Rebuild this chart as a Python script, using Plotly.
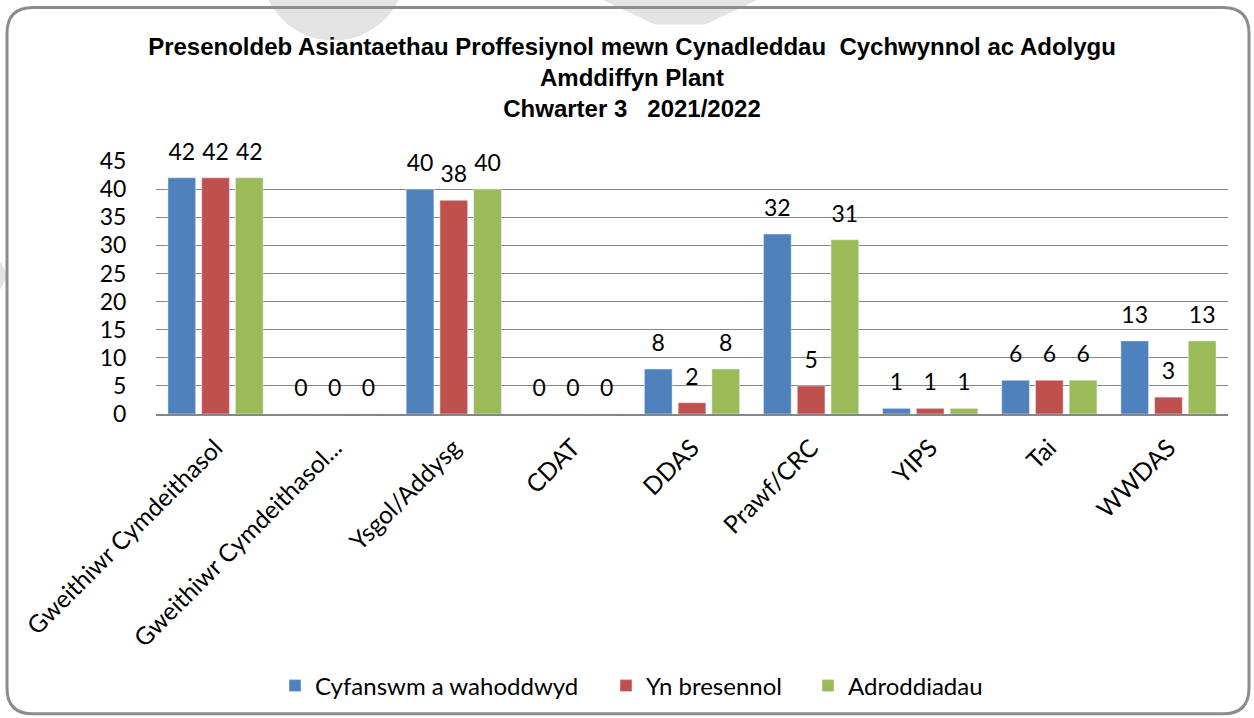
import plotly.graph_objects as go

categories = ["Gweithiwr Cymdeithasol", "Gweithiwr Cymdeithasol...", "Ysgol/Addysg", "CDAT",
              "DDAS", "Prawf/CRC", "YIPS", "Tai", "WWDAS"]
invited = [42, 0, 40, 0, 8, 32, 1, 6, 13]
present = [42, 0, 38, 0, 2, 5, 1, 6, 3]
reports = [42, 0, 40, 0, 8, 31, 1, 6, 13]

series_names = ["Cyfanswm a wahoddwyd", "Yn bresennol", "Adroddiadau"]
series_values = [invited, present, reports]
colors = ["#4F81BD", "#C0504D", "#9BBB59"]

W, H = 1254, 718
L, R, T, B = 156, 26, 161, 303
PW, PH = W - L - R, H - T - B


def px(x):
    return (x - L) / PW


def py(y):
    return (H - B - y) / PH


legend_ids = ["legend", "legend2", "legend3"]
legend_left = [275, 606, 808]

fig = go.Figure()
for i, (name, vals, col) in enumerate(zip(series_names, series_values, colors)):
    fig.add_trace(go.Bar(x=categories, y=vals, name=name, marker_color=col,
                         offsetgroup=str(i), hoverinfo="skip", legend=legend_ids[i]))
for i, (name, vals) in enumerate(zip(series_names, series_values)):
    fig.add_trace(go.Scatter(x=categories, y=vals, mode="markers+text", text=[str(v) for v in vals],
                             textposition="top center", offsetgroup=str(i),
                             marker=dict(size=18, opacity=0), showlegend=False,
                             textfont=dict(family="Lato", size=23, color="black"),
                             cliponaxis=False, hoverinfo="skip"))

# frame path (rounded rectangle)
x0, y0, x1, y1, r = 7, 7, 1249, 716, 26
path = (f"M {px(x0 + r)},{py(y0)} L {px(x1 - r)},{py(y0)} Q {px(x1)},{py(y0)} {px(x1)},{py(y0 + r)} "
        f"L {px(x1)},{py(y1 - r)} Q {px(x1)},{py(y1)} {px(x1 - r)},{py(y1)} "
        f"L {px(x0 + r)},{py(y1)} Q {px(x0)},{py(y1)} {px(x0)},{py(y1 - r)} "
        f"L {px(x0)},{py(y0 + r)} Q {px(x0)},{py(y0)} {px(x0 + r)},{py(y0)} Z")

shapes = [
    dict(type="circle", xref="paper", yref="paper", layer="below",
         x0=px(262), x1=px(405), y0=py(40), y1=py(-100), fillcolor="#E3E3E3", line_width=0),
    dict(type="path", xref="paper", yref="paper", layer="below",
         path=f"M {px(600)},{py(-2)} L {px(760)},{py(-2)} L {px(705)},{py(24)} L {px(655)},{py(24)} Z",
         fillcolor="#E3E3E3", line_width=0),
    dict(type="path", xref="paper", yref="paper", layer="below",
         path=f"M {px(0)},{py(262)} L {px(8)},{py(276)} L {px(0)},{py(290)} Z",
         fillcolor="#E3E3E3", line_width=0),
    dict(type="path", xref="paper", yref="paper", path=path, layer="above",
         line=dict(color="#8C8C8C", width=3)),
]

legend_style = dict(orientation="h", xanchor="left", y=py(686), yanchor="middle",
                    font=dict(family="Lato", size=24, color="black"), itemwidth=30,
                    bgcolor="rgba(0,0,0,0)")

fig.update_layout(
    width=W, height=H,
    margin=dict(l=L, r=R, t=T, b=B),
    paper_bgcolor="white", plot_bgcolor="white",
    barmode="group", bargap=0.15, bargroupgap=0.18,
    scattermode="group", scattergap=0.15,
    title=dict(
        text="Presenoldeb Asiantaethau Proffesiynol mewn Cynadleddau&nbsp;&nbsp;Cychwynnol ac Adolygu<br>"
             "Amddiffyn Plant<br>Chwarter 3&nbsp;&nbsp;&nbsp;2021/2022",
        x=px(632), xanchor="center", xref="paper", y=1 - 55 / H, yanchor="top", yref="container",
        font=dict(family="Liberation Sans", size=24, color="black", weight="bold"),
    ),
    font=dict(family="Lato", size=23, color="black"),
    xaxis=dict(showgrid=False, showline=True, linecolor="#868686", linewidth=1.5,
               tickangle=-45, tickfont=dict(family="Lato", size=24.5, color="black"),
               ticks="outside", ticklen=8, tickcolor="rgba(0,0,0,0)"),
    yaxis=dict(range=[0, 45], dtick=5, showgrid=True, gridcolor="#868686", gridwidth=1,
               zeroline=False, showline=False, ticks="outside", ticklen=24,
               tickcolor="rgba(0,0,0,0)", tickfont=dict(family="Lato", size=23, color="black")),
    legend=dict(x=px(legend_left[0]), **legend_style),
    legend2=dict(x=px(legend_left[1]), **legend_style),
    legend3=dict(x=px(legend_left[2]), **legend_style),
    shapes=shapes,
    showlegend=True,
)

fig.write_html("out.html", config={"displayModeBar": False},
               post_script="document.body.style.margin='0';")
